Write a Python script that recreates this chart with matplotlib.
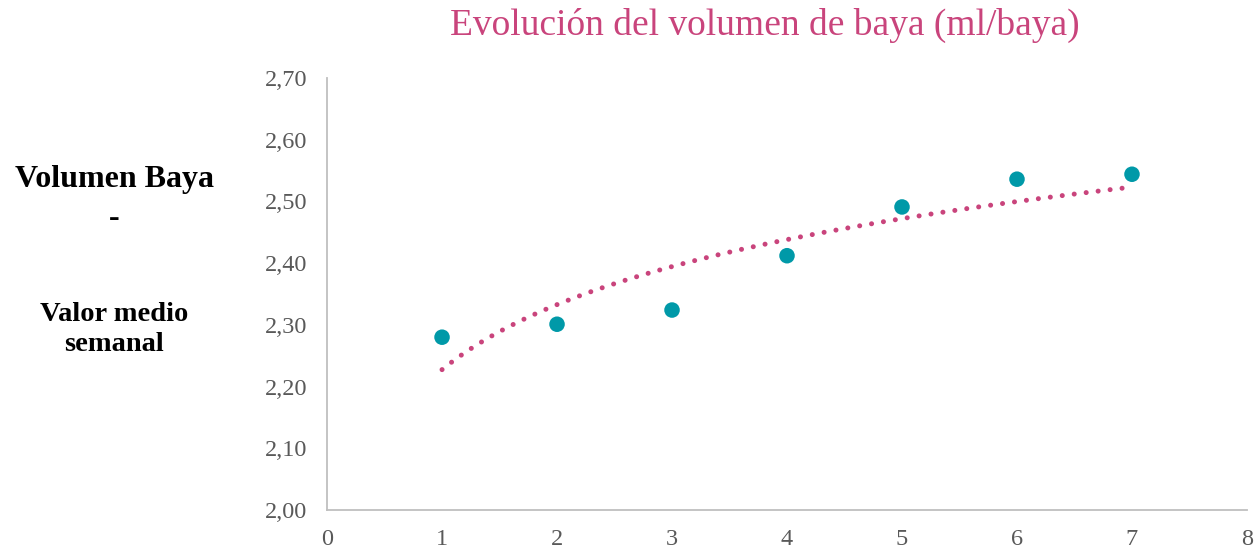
import numpy as np
import matplotlib.pyplot as plt
from matplotlib.ticker import FuncFormatter, MultipleLocator

# data: weekly mean berry volume (ml/berry)
semanas = [1, 2, 3, 4, 5, 6, 7]
volumen = [2.280, 2.301, 2.324, 2.412, 2.491, 2.536, 2.544]

titulo = "Evolución del volumen de baya (ml/baya)"
etiqueta_1 = "Volumen Baya"
etiqueta_2 = "-"
etiqueta_3 = "Valor medio\nsemanal"

# logarithmic trend line fitted to the points
x = np.array(semanas, dtype=float)
y = np.array(volumen)
b, a = np.polyfit(np.log(x), y, 1)
xt = np.linspace(x.min(), x.max(), 200)
yt = a + b * np.log(xt)

plt.rcParams["font.family"] = ["Liberation Serif", "DejaVu Serif"]

fig = plt.figure(figsize=(12.54, 5.49), dpi=100)
ax = fig.add_axes([0.2608, 0.0710, 0.7336, 0.787])

ax.plot(xt, yt, color="#C9447C", linewidth=3.6, linestyle=(0, (0.01, 2.4)),
        dash_capstyle="round", zorder=2)
ax.scatter(x, y, s=125, color="#0099A8", edgecolors="none", zorder=3)

ax.set_xlim(0, 8)
ax.set_ylim(2.0, 2.7)
ax.xaxis.set_major_locator(MultipleLocator(1))
ax.yaxis.set_major_locator(MultipleLocator(0.1))
ax.yaxis.set_major_formatter(FuncFormatter(lambda v, p: f"{v:.2f}".replace(".", ",")))
ax.tick_params(length=0, labelsize=17.5, labelcolor="#595959")
ax.tick_params(axis="y", pad=14)
ax.tick_params(axis="x", pad=14)

for s in ["top", "right"]:
    ax.spines[s].set_visible(False)
for s in ["left", "bottom"]:
    ax.spines[s].set_color("#BFBFBF")
    ax.spines[s].set_linewidth(1.3)

fig.text(0.61, 0.953, titulo, ha="center", va="center", fontsize=27, color="#C9447C")
fig.text(0.091, 0.673, etiqueta_1, ha="center", va="center", fontsize=23, fontweight="bold")
fig.text(0.091, 0.602, etiqueta_2, ha="center", va="center", fontsize=23, fontweight="bold")
fig.text(0.091, 0.40, etiqueta_3, ha="center", va="center", fontsize=20.5, fontweight="bold",
         linespacing=1.25)

fig.savefig("out.png", dpi=100)
